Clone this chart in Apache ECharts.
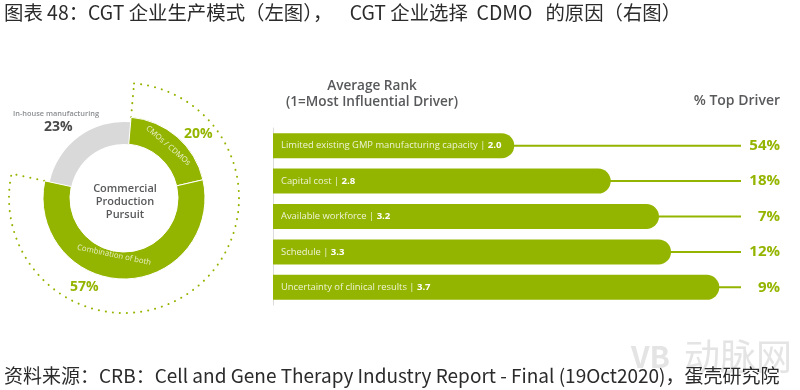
<!DOCTYPE html>
<html>
<head>
<meta charset="utf-8">
<script src="https://cdn.jsdelivr.net/npm/echarts@6/dist/echarts.min.js"></script>
<style>
  html, body { margin: 0; padding: 0; background: #fff; }
  #chart { width: 800px; height: 390px; }
</style>
</head>
<body>
<div id="chart"></div>
<script>
// left donut
const shareNames = ['CMOs / CDMOs', 'Combination of both', 'In-house manufacturing'];
const shareValues = [20, 57, 23];

// right bars
const rankNames = ['Limited existing GMP manufacturing capacity', 'Capital cost', 'Available workforce', 'Schedule', 'Uncertainty of clinical results'];
const rankValues = [2.0, 2.8, 3.2, 3.3, 3.7];
const topDriverLabels = ['54%', '18%', '7%', '12%', '9%'];

const GREEN = '#94b500';
const GREY = '#d9d9d9';
const DARK = '#58595b';
const rankMax = 3.88;
const sans = '"Open Sans", Lato, sans-serif';
const cjk = '"Noto Sans CJK SC", sans-serif';

const chart = echarts.init(document.getElementById('chart'));

function txt(text, left, top, size, color, weight, extra) {
  return Object.assign({
    text: text, left: left, top: top,
    textStyle: { fontFamily: sans, fontSize: size, color: color, fontWeight: weight, lineHeight: Math.round(size * 1.2) },
    padding: 0
  }, extra || {});
}
function plain(text, left, top, size, color, weight) {
  return {
    text: text, left: left, top: top, padding: 0,
    textStyle: { fontFamily: cjk, fontSize: size, color: color, fontWeight: weight || 'normal' }
  };
}

const pieBase = {
  type: 'pie', center: [124, 198], startAngle: 85, clockwise: true, silent: true,
  animation: false, labelLine: { show: false }, emphasis: { disabled: true }
};
const clear = { color: 'transparent', borderWidth: 0 };

chart.setOption({
  animation: false,
  title: [
    // watermark sits behind the source line
    plain('VB', 631, 342, 30, '#e4e4e4', 'bold'),
    plain('动脉网', 684, 338, 36, '#e4e4e4'),
    plain('图表 48：CGT 企业生产模式（左图），    CGT 企业选择  CDMO   的原因（右图）', 4, 3, 19.4, '#2b2b2b'),
    plain('资料来源：CRB：Cell and Gene Therapy Industry Report - Final (19Oct2020)，蛋壳研究院', 4, 366, 19, '#2b2b2b'),
    txt('In-house manufacturing', 13, 109, 7.4, '#8a8d90', 600),
    txt('23%', 44, 119, 14, '#4a4a4a', 700),
    txt('20%', 184, 126, 14, GREEN, 700),
    txt('57%', 70, 279, 14, GREEN, 700),
    txt('Commercial\nProduction\nPursuit', 125, 182, 11, DARK, 600, { textAlign: 'center' }),
    txt('Average Rank\n(1=Most Influential Driver)', 372, 78, 13.6, DARK, 600, { textAlign: 'center' }),
    txt('% Top Driver', 780, 93, 14, DARK, 600, { textAlign: 'right' })
  ],
  grid: { left: 273, top: 128, width: 468, height: 177 },
  xAxis: { type: 'value', min: 0, max: rankMax, show: false },
  yAxis: [
    {
      type: 'category', inverse: true, data: rankNames, position: 'left',
      axisLine: { show: true, lineStyle: { color: '#dcdcdc', width: 1 } },
      axisTick: { show: false }, axisLabel: { show: false }
    },
    {
      type: 'category', inverse: true, data: topDriverLabels, position: 'right',
      axisLine: { show: false }, axisTick: { show: false },
      axisLabel: { align: 'right', margin: 39, color: GREEN, fontFamily: sans, fontSize: 15, fontWeight: 700, verticalAlign: 'middle', lineHeight: 12, padding: [0, 0, 3, 0] }
    }
  ],
  series: [
    // dotted arc around the two outsourced shares, inner edge hidden under the ring
    Object.assign({}, pieBase, {
      z: 1, radius: [78, 115], label: { show: false },
      data: [
        { value: shareValues[0] + shareValues[1], itemStyle: { color: 'transparent', borderColor: GREEN, borderWidth: 2, borderType: [0.1, 7], borderCap: 'round' } },
        { value: shareValues[2], itemStyle: clear }
      ]
    }),
    Object.assign({}, pieBase, {
      z: 3, radius: [54, 76], label: { show: false },
      data: shareValues.map((v, i) => ({ value: v, name: shareNames[i], itemStyle: i === 2 ? { color: GREY } : clear }))
    }),
    Object.assign({}, pieBase, {
      z: 4, radius: [54, 81],
      itemStyle: { color: GREEN, borderColor: '#fff', borderWidth: 1 },
      label: { show: true, position: 'inside', color: '#e8efc8', fontFamily: sans, fontSize: 7.8, formatter: '{b}' },
      data: [
        { value: shareValues[0], name: shareNames[0], label: { rotate: 'tangential', offset: [-1, 2] } },
        { value: shareValues[1], name: shareNames[1], label: { rotate: -12, offset: [-13, -11] } },
        { value: shareValues[2], name: shareNames[2], itemStyle: clear, label: { show: false } }
      ]
    }),
    // thin leader from each bar to its % label
    {
      type: 'bar', yAxisIndex: 1, barWidth: 2, silent: true, z: 2,
      itemStyle: { color: GREEN },
      data: topDriverLabels.map(() => rankMax)
    },
    {
      type: 'bar', yAxisIndex: 0, barWidth: 25, silent: true, z: 3,
      itemStyle: { color: GREEN, borderRadius: [0, 12.5, 12.5, 0] },
      label: {
        show: true, position: 'insideLeft', distance: 8,
        formatter: p => '{n|' + p.name + ' | }{v|' + p.value.toFixed(1) + '}',
        rich: {
          n: { color: '#eef3d6', fontFamily: sans, fontSize: 9.4 },
          v: { color: '#fff', fontFamily: sans, fontSize: 9.6, fontWeight: 700 }
        }
      },
      data: rankValues
    }
  ]
});
</script>
</body>
</html>
